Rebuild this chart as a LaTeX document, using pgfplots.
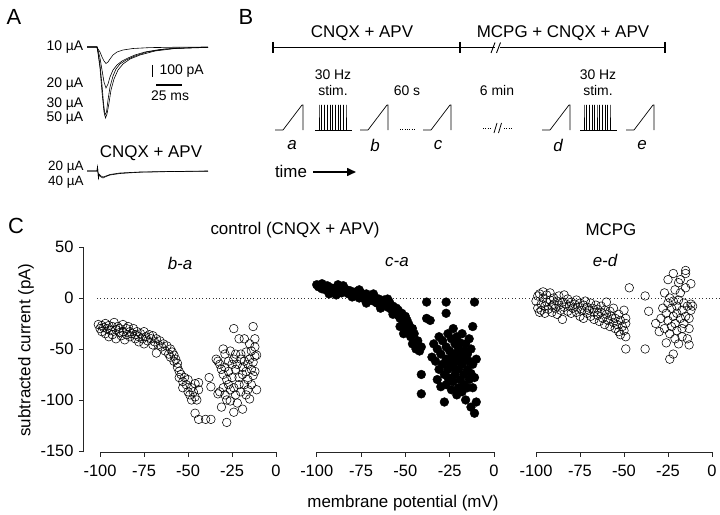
\documentclass[border=0pt]{standalone}
\usepackage{pgfplots}
\pgfplotsset{compat=1.18}
\usepackage{fontspec}
\setmainfont{Liberation Sans}
\usetikzlibrary{arrows.meta}
\newcommand{\fs}[1]{\fontsize{#1}{#1}\selectfont}
\pgfplotsset{
 canvas/.style={at={(0bp,0bp)}, anchor=south west, scale only axis, width=720bp, height=515bp,
   xmin=0, xmax=720, ymin=0, ymax=515, y dir=reverse, axis lines=none, clip=false},
 cpanel/.style={anchor=south west, scale only axis, height=205.5bp,
   ymin=-151.5, ymax=50, clip=false,
   axis x line*=bottom,
   xtick={-100,-75,-50,-25,0},
   tick align=outside, major tick length=4bp,
   tick style={black!85, line width=0.7pt},
   axis line style={black!85, line width=0.7pt},
   ticklabel style={font=\fs{16.5}},
   x tick label style={yshift=-5bp},
   /pgf/number format/assume math mode=true},
 openc/.style={only marks, mark=o, mark size=4.3bp, mark options={draw=black, fill=white, line width=0.55pt}},
 fillc/.style={only marks, mark=*, mark size=4.4bp, mark options={draw=black, fill=black}},
}
\begin{document}
\begin{tikzpicture}
\path[use as bounding box] (0,0) rectangle (720bp,515bp);
% ---------- canvas: panels A and B, labels ----------
\begin{axis}[canvas]
% zero dotted line of panel C
\addplot[black!80, line width=0.8pt, dash pattern=on 0.9bp off 2.5bp] coordinates {(97,298) (720,298)};
% ===== Panel A traces =====
\addplot[black, line width=0.6pt] coordinates {(87,47)(97,47)(98,49)(100,52)(102,57)(104,61)(106,63.5)(108,62)(110,59)(113,55)(117,52)(123,50)(133,48.5)(150,47.6)(180,47.2)(208,47)};
\addplot[black, line width=0.6pt] coordinates {(87,47)(97,47)(98,50)(100,58)(102,70)(104,82)(106,88)(108,84)(110,77)(113,70)(117,65)(122,61)(128,58)(135,55)(145,52)(160,49.5)(180,48)(208,47.3)};
\addplot[black, line width=0.6pt] coordinates {(87,47)(97,47)(98,52)(100,65)(102,85)(103.5,103)(105,115)(106.5,112)(108,100)(110,87)(113,76)(116,69)(120,64)(126,60)(135,56)(147,52)(165,49)(190,47.7)(208,47.3)};
\addplot[black, line width=0.6pt] coordinates {(87,47)(97,47)(98,53)(100,68)(102,92)(104,112)(105.5,118)(107,114)(109,103)(111,90)(114,79)(118,70)(123,64)(130,59)(140,55)(155,51)(175,48.5)(208,47.4)};
\addplot[black, line width=0.6pt] coordinates {(87,171)(97,171)(97.5,166)(98.5,179)(99,174)(101,176)(103,177)(106,176)(110,174.5)(120,173)(140,172)(170,171.5)(208,171)};
\addplot[black, line width=0.6pt] coordinates {(87,171)(97,171)(97.5,167)(98.5,178)(99,175)(101,177)(103,178)(106,176.5)(110,175)(120,173.5)(140,172.2)(170,171.6)(208,171.2)};
% scale bars
\addplot[black, line width=1.3pt] coordinates {(152.3,65)(152.3,77.3)};
\addplot[black, line width=1.3pt] coordinates {(156,85)(182,85)};
\node[font=\fs{14}, anchor=west] at (axis cs:156,71.5) {100 pA};
\node[font=\fs{14}] at (axis cs:170,96) {25 ms};
\node[font=\fs{14}, anchor=east, inner sep=0.5bp] at (axis cs:84,47) {10 µA};
\node[font=\fs{14}, anchor=east, inner sep=0.5bp] at (axis cs:84,84) {20 µA};
\node[font=\fs{14}, anchor=east, inner sep=0.5bp] at (axis cs:84,104) {30 µA};
\node[font=\fs{14}, anchor=east, inner sep=0.5bp] at (axis cs:84,118) {50 µA};
\node[font=\fs{17}] at (axis cs:151,153.5) {CNQX + APV};
\node[font=\fs{13.5}, anchor=east, inner sep=0.3bp] at (axis cs:84,167.5) {20 µA};
\node[font=\fs{13.5}, anchor=east, inner sep=0.3bp] at (axis cs:84,182) {40 µA};
\node[font=\fs{22}] at (axis cs:14,17) {A};
% ===== Panel B =====
\node[font=\fs{22}] at (axis cs:246,17) {B};
\addplot[black, line width=1.4pt] coordinates {(273,47.7)(665,47.7)};
\addplot[black, line width=1.4pt] coordinates {(273,42)(273,53.5)};
\addplot[black, line width=1.4pt] coordinates {(460,42)(460,53.5)};
\addplot[black, line width=1.4pt] coordinates {(665,42)(665,53.5)};
\addplot[white, line width=2.5pt] coordinates {(494.5,47.7)(499.5,47.7)};
\addplot[black, line width=0.9pt] coordinates {(491,53)(495,42.5)};
\addplot[black, line width=0.9pt] coordinates {(496.5,53)(500.5,42.5)};
\node[font=\fs{17}] at (axis cs:362,33) {CNQX + APV};
\node[font=\fs{17}] at (axis cs:563,33) {MCPG + CNQX + APV};
% ramps
\addplot[black, line width=0.7pt] coordinates {(275,130)(283,130)(302,105)(303,105)(303,130)};
\addplot[black, line width=0.7pt] coordinates {(360,130)(368,130)(387,105)(388,105)(388,130)};
\addplot[black, line width=0.7pt] coordinates {(423,130)(431,130)(450,105)(451,105)(451,130)};
\addplot[black, line width=0.7pt] coordinates {(542,130)(550,130)(569,105)(570,105)(570,130)};
\addplot[black, line width=0.7pt] coordinates {(626,130)(634,130)(653,105)(654,105)(654,130)};
% stimulus trains
\addplot[black, line width=0.6pt] coordinates {(315,130)(319,130)(319,105)(319,130)(321.7,130)(321.7,105)(321.7,130)(324.4,130)(324.4,105)(324.4,130)(327.1,130)(327.1,105)(327.1,130)(329.8,130)(329.8,105)(329.8,130)(332.5,130)(332.5,105)(332.5,130)(335.2,130)(335.2,105)(335.2,130)(337.9,130)(337.9,105)(337.9,130)(340.6,130)(340.6,105)(340.6,130)(343.3,130)(343.3,105)(343.3,130)(346,130)(346,105)(346,130)(352,130)};
\addplot[black, line width=0.6pt] coordinates {(580,130)(584,130)(584,105)(584,130)(586.6,130)(586.6,105)(586.6,130)(589.2,130)(589.2,105)(589.2,130)(591.8,130)(591.8,105)(591.8,130)(594.4,130)(594.4,105)(594.4,130)(597,130)(597,105)(597,130)(599.6,130)(599.6,105)(599.6,130)(602.2,130)(602.2,105)(602.2,130)(604.8,130)(604.8,105)(604.8,130)(607.4,130)(607.4,105)(607.4,130)(610,130)(610,105)(610,130)(617,130)};
% dots and breaks
\addplot[black, line width=0.8pt, dash pattern=on 0.7bp off 1.6bp] coordinates {(400,129)(415,129)};
\addplot[black, line width=0.8pt, dash pattern=on 0.7bp off 1.6bp] coordinates {(483,128)(492,128)};
\addplot[black, line width=0.8pt, dash pattern=on 0.7bp off 1.6bp] coordinates {(504,128)(513,128)};
\addplot[black, line width=0.8pt] coordinates {(494,133)(497,123)};
\addplot[black, line width=0.8pt] coordinates {(498.5,133)(501.5,123)};
\node[font=\fs{14}] at (axis cs:333,75) {30 Hz};
\node[font=\fs{14}] at (axis cs:333,91) {stim.};
\node[font=\fs{14}] at (axis cs:407,91) {60 s};
\node[font=\fs{14}] at (axis cs:497,91) {6 min};
\node[font=\fs{14}] at (axis cs:598,75) {30 Hz};
\node[font=\fs{14}] at (axis cs:598,91) {stim.};
\node[font=\fs{17}\itshape] at (axis cs:292,145) {a};
\node[font=\fs{17}\itshape] at (axis cs:375,145) {b};
\node[font=\fs{17}\itshape] at (axis cs:438,145) {c};
\node[font=\fs{17}\itshape] at (axis cs:558,145) {d};
\node[font=\fs{17}\itshape] at (axis cs:642,145) {e};
\node[font=\fs{17}] at (axis cs:291,171) {time};
\addplot[black, line width=1.6pt, -{Triangle[length=9bp,width=8bp]}] coordinates {(313,172)(356,172)};
% ===== Panel C labels =====
\node[font=\fs{22}] at (axis cs:16,226) {C};
\node[font=\fs{17}] at (axis cs:295,230) {control (CNQX + APV)};
\node[font=\fs{17}] at (axis cs:611,230) {MCPG};
\node[font=\fs{17}\itshape] at (axis cs:180,263) {b-a};
\node[font=\fs{17}\itshape] at (axis cs:397,262) {c-a};
\node[font=\fs{17}\itshape] at (axis cs:605,260) {e-d};
\node[font=\fs{17}, rotate=90] at (axis cs:26,350) {subtracted current (pA)};
\node[font=\fs{17}] at (axis cs:403,503) {membrane potential (mV)};
\end{axis}
% ---------- Panel C1: b-a ----------
\begin{axis}[cpanel, at={(83bp,62.5bp)}, width=193bp, xmin=-109.7, xmax=0,
  axis y line*=left, x axis line style={shorten <=17bp},
  ytick={-150,-100,-50,0,50}, y tick label style={xshift=-2bp}]
\addplot[openc] table {
-101 -26
-100 -30
-99 -27
-99 -33
-98 -29
-97 -25
-97 -35
-96 -30
-95 -27
-95 -38
-94 -32
-93 -28
-93 -36
-92 -24
-91 -31
-91 -40
-90 -28
-89 -34
-89 -30
-88 -37
-87 -26
-87 -33
-86 -41
-85 -30
-85 -36
-84 -28
-83 -38
-83 -33
-82 -35
-81 -30
-80 -40
-80 -36
-79 -33
-78 -43
-78 -38
-77 -35
-76 -40
-75 -33
-75 -45
-74 -38
-73 -42
-72 -36
-71 -40
-70 -46
-70 -37
-69 -43
-68 -54
-68 -40
-67 -46
-66 -42
-65 -48
-64 -45
-63 -52
-62 -47
-61 -55
-60 -50
-60 -58
-59 -53
-58 -62
-58 -56
-57 -60
-56 -68
-56 -64
-55 -72
-55 -78
-54 -75
-53 -82
-53 -88
-52 -78
-51 -85
-50 -92
-50 -80
-49 -95
-48 -88
-48 -100
-47 -92
-46 -97
-46 -84
-45 -100
-44 -90
-44 -83
-46 -113
-44 -119
-40 -119
-37 -119
-38 -78
-37 -87
-34 -60
-33 -62
-33 -94
-32 -65
-32 -92
-31 -70
-31 -107
-30 -50
-30 -75
-30 -88
-29 -55
-29 -68
-29 -95
-28 -122
-28 -80
-28 -100
-27 -62
-27 -85
-27 -72
-26 -52
-26 -90
-26 -101
-25 -65
-25 -78
-24 -30
-24 -60
-24 -88
-24 -112
-23 -55
-23 -70
-23 -95
-22 -103
-22 -65
-21 -40
-21 -78
-21 -85
-20 -60
-20 -92
-20 -55
-19 -68
-19 -109
-19 -75
-18 -40
-18 -62
-18 -85
-17 -53
-17 -95
-17 -72
-16 -65
-16 -90
-16 -80
-15 -45
-15 -60
-15 -99
-14 -70
-14 -85
-14 -52
-13 -28
-13 -63
-13 -76
-12 -40
-12 -48
-12 -57
-12 -72
-11 -56
-11 -90
};
\end{axis}
% ---------- Panel C2: c-a ----------
\begin{axis}[cpanel, at={(316.7bp,62.5bp)}, width=177.3bp, xmin=-100, xmax=0,
  axis y line=none]
\addplot[fillc] table {
-100 13
-99 11
-98 12
-97 9
-97 14
-96 11
-95 8
-94 12
-93 7
-93 4
-92 10
-91 9
-90 6
-89 10
-89 3
-88 13
-87 7
-86 5
-85 9
-85 12
-84 6
-83 8
-82 4
-81 7
-80 5
-80 1
-79 2
-78 6
-77 3
-76 0
-76 8
-75 5
-74 2
-73 -1
-72 4
-72 -5
-71 1
-70 -2
-69 2
-68 -3
-68 4
-67 0
-66 -5
-65 -1
-64 -4
-64 -10
-63 -7
-62 -2
-61 -6
-60 -9
-60 -1
-59 -4
-58 -11
-57 -8
-57 -16
-56 -14
-55 -10
-54 -17
-54 -12
-53 -20
-53 -28
-52 -15
-51 -24
-51 -35
-50 -18
-50 -28
-49 -22
-48 -33
-48 -26
-47 -38
-46 -30
-46 -45
-45 -35
-44 -50
-43 -42
-42 -52
-41 -48
-41 -75
-41 -94
-38 -4
-38 -20
-36 -22
-27 -4
-27 -15
-11 -4
-12 -28
-35 -58
-34 -45
-33 -62
-32 -50
-32 -80
-31 -38
-31 -70
-30 -55
-30 -87
-29 -42
-29 -65
-28 -102
-28 -75
-27 -48
-27 -60
-27 -85
-26 -35
-26 -70
-26 -78
-25 -52
-25 -64
-24 -40
-24 -58
-24 -90
-23 -30
-23 -68
-23 -82
-22 -45
-22 -55
-22 -75
-21 -38
-21 -62
-21 -95
-20 -50
-20 -70
-20 -88
-19 -44
-19 -58
-19 -80
-18 -35
-18 -65
-18 -92
-17 -52
-17 -75
-17 -85
-16 -45
-16 -60
-16 -100
-15 -55
-15 -70
-15 -88
-14 -40
-14 -62
-14 -80
-13 -107
-13 -50
-13 -74
-12 -65
-12 -88
-11 -113
-11 -78
-10 -102
-10 -60
};
\end{axis}
% ---------- Panel C3: e-d ----------
\begin{axis}[cpanel, at={(536bp,62.5bp)}, width=176bp, xmin=-100, xmax=0,
  axis y line=none]
\addplot[openc] table {
-100 -3
-99 2
-99 -10
-98 -14
-98 4
-97 -6
-97 -12
-96 6
-96 0
-95 -8
-95 -15
-94 3
-94 -4
-93 -11
-92 -2
-92 5
-91 -8
-91 -14
-90 0
-90 -6
-89 -10
-88 -3
-88 -16
-87 2
-87 -7
-86 -12
-85 -4
-85 -21
-84 -9
-84 3
-83 -6
-82 -13
-82 -1
-81 -8
-80 -15
-80 -4
-79 -10
-78 -6
-77 -14
-77 -2
-76 -9
-75 -18
-75 -5
-74 -12
-73 -7
-73 -20
-72 -3
-71 -15
-71 -9
-70 -12
-69 -5
-69 -18
-68 -10
-67 -21
-67 -14
-66 -7
-65 -17
-65 -11
-64 -23
-63 -14
-63 -8
-62 -20
-61 -12
-61 -26
-60 -4
-60 -16
-59 -22
-58 -13
-58 -28
-57 -18
-56 -24
-56 -10
-55 -30
-55 -20
-54 -26
-53 -33
-53 -16
-52 -22
-52 -36
-51 -28
-50 -12
-50 -32
-49 -38
-49 -20
-49 -25
-47 10
-49 -50
-38 -50
-38 2
-36 -13
-32 -25
-30 -33
-29 -20
-28 -10
-27 5
-27 -30
-26 -44
-26 -15
-25 18
-25 -5
-25 -22
-24 -60
-24 0
-24 -35
-23 -10
-23 -28
-22 24
-22 -55
-22 -3
-22 -18
-21 8
-21 -40
-21 -25
-20 -8
-20 -15
-20 -32
-19 15
-19 -2
-19 -45
-18 18
-18 5
-18 -20
-17 -12
-17 -30
-17 -38
-16 -5
-16 -25
-15 27
-15 24
-15 10
-15 -18
-14 -40
-14 -8
-13 -46
-13 -20
-13 -30
-12 14
-12 -6
-12 -12
-11 -8
};
\end{axis}
\end{tikzpicture}
\end{document}
